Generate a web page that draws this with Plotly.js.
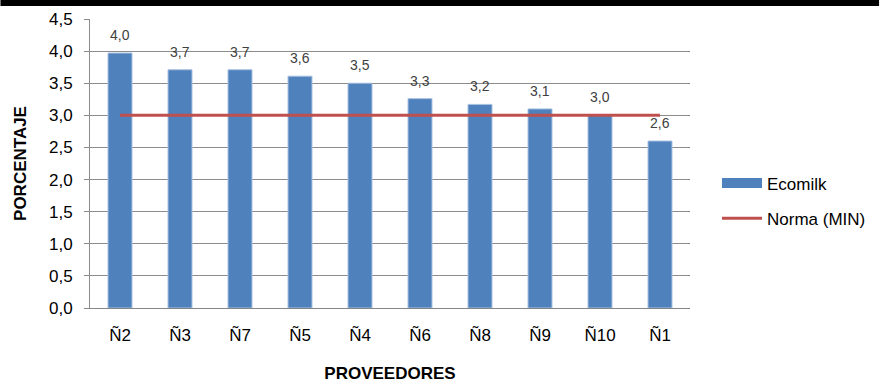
<!DOCTYPE html>
<html>
<head>
<meta charset="utf-8">
<script src="https://cdn.plot.ly/plotly-3.0.1.min.js"></script>
<style>html,body{margin:0;padding:0;background:#fff;}#chart{width:883px;height:383px;}</style>
</head>
<body>
<div id="chart"></div>
<script>
const categories = ["Ñ2", "Ñ3", "Ñ7", "Ñ5", "Ñ4", "Ñ6", "Ñ8", "Ñ9", "Ñ10", "Ñ1"];
const ecomilkValues = [3.97, 3.71, 3.71, 3.61, 3.50, 3.26, 3.17, 3.10, 3.00, 2.60];
const normaValues = [3.0, 3.0, 3.0, 3.0, 3.0, 3.0, 3.0, 3.0, 3.0, 3.0];
const yTicks = [0, 0.5, 1, 1.5, 2, 2.5, 3, 3.5, 4, 4.5];

const FONT = "Liberation Sans, Arial, sans-serif";
const BLUE = "#4F81BD";
const RED = "#C0504D";

const traces = [
  {
    type: "bar",
    name: "Ecomilk",
    x: categories,
    y: ecomilkValues,
    marker: { color: BLUE, line: { color: "#A9C1E0", width: 1 } },
    showlegend: false,
    hoverinfo: "skip"
  },
  {
    type: "scatter",
    mode: "lines",
    name: "Ecomilk",
    legendgroup: "a",
    x: [categories[0]],
    y: [null],
    line: { color: BLUE, width: 10 },
    hoverinfo: "skip"
  },
  {
    type: "scatter",
    mode: "lines",
    name: "Norma (MIN)",
    legendgroup: "b",
    x: categories,
    y: normaValues,
    line: { color: RED, width: 3 },
    hoverinfo: "skip"
  }
];

const annotations = categories.map((c, i) => ({
  x: c, y: ecomilkValues[i], xref: "x", yref: "y",
  text: ecomilkValues[i].toFixed(1).replace(".", ","),
  showarrow: false, yanchor: "bottom", yshift: 8,
  font: { family: FONT, size: 14, color: "#404040" }
}));

const layout = {
  width: 883,
  height: 383,
  margin: { l: 90, r: 190, t: 19, b: 75 },
  paper_bgcolor: "#ffffff",
  plot_bgcolor: "#ffffff",
  separators: ",.",
  font: { family: FONT, color: "#000000" },
  bargap: 0.6,
  showlegend: true,
  legend: {
    x: 1.045, xanchor: "left",
    y: 0.37, yanchor: "middle",
    font: { family: FONT, size: 17, color: "#000" },
    traceorder: "grouped",
    tracegroupgap: 10,
    itemwidth: 40,
    bgcolor: "rgba(0,0,0,0)"
  },
  xaxis: {
    type: "category",
    showgrid: false,
    showline: true,
    linecolor: "#868686",
    linewidth: 1,
    ticks: "",
    ticklabelstandoff: 12,
    tickfont: { family: FONT, size: 17, color: "#000" },
    title: { text: "<b>PROVEEDORES</b>", font: { family: FONT, size: 17, color: "#000" }, standoff: 22 }
  },
  yaxis: {
    range: [0, 4.5],
    tickvals: yTicks,
    tickformat: ".1f",
    showgrid: true,
    gridcolor: "#8C8C8C",
    gridwidth: 1,
    showline: true,
    linecolor: "#8C8C8C",
    linewidth: 1,
    ticks: "outside",
    ticklen: 5,
    tickcolor: "#8C8C8C",
    ticklabelstandoff: 8,
    zeroline: false,
    tickfont: { family: FONT, size: 17, color: "#000" },
    title: { text: "<b>PORCENTAJE</b>", font: { family: FONT, size: 17, color: "#000" }, standoff: 18 }
  },
  annotations: annotations,
  shapes: [
    {
      type: "rect", xref: "paper", yref: "paper",
      x0: -90 / 603, x1: (883 - 90) / 603,
      y0: (308 - 6) / 289, y1: (308 + 1) / 289,
      fillcolor: "#000", line: { width: 0 }
    }
  ]
};

Plotly.newPlot("chart", traces, layout, { displayModeBar: false, staticPlot: true });
</script>
</body>
</html>
